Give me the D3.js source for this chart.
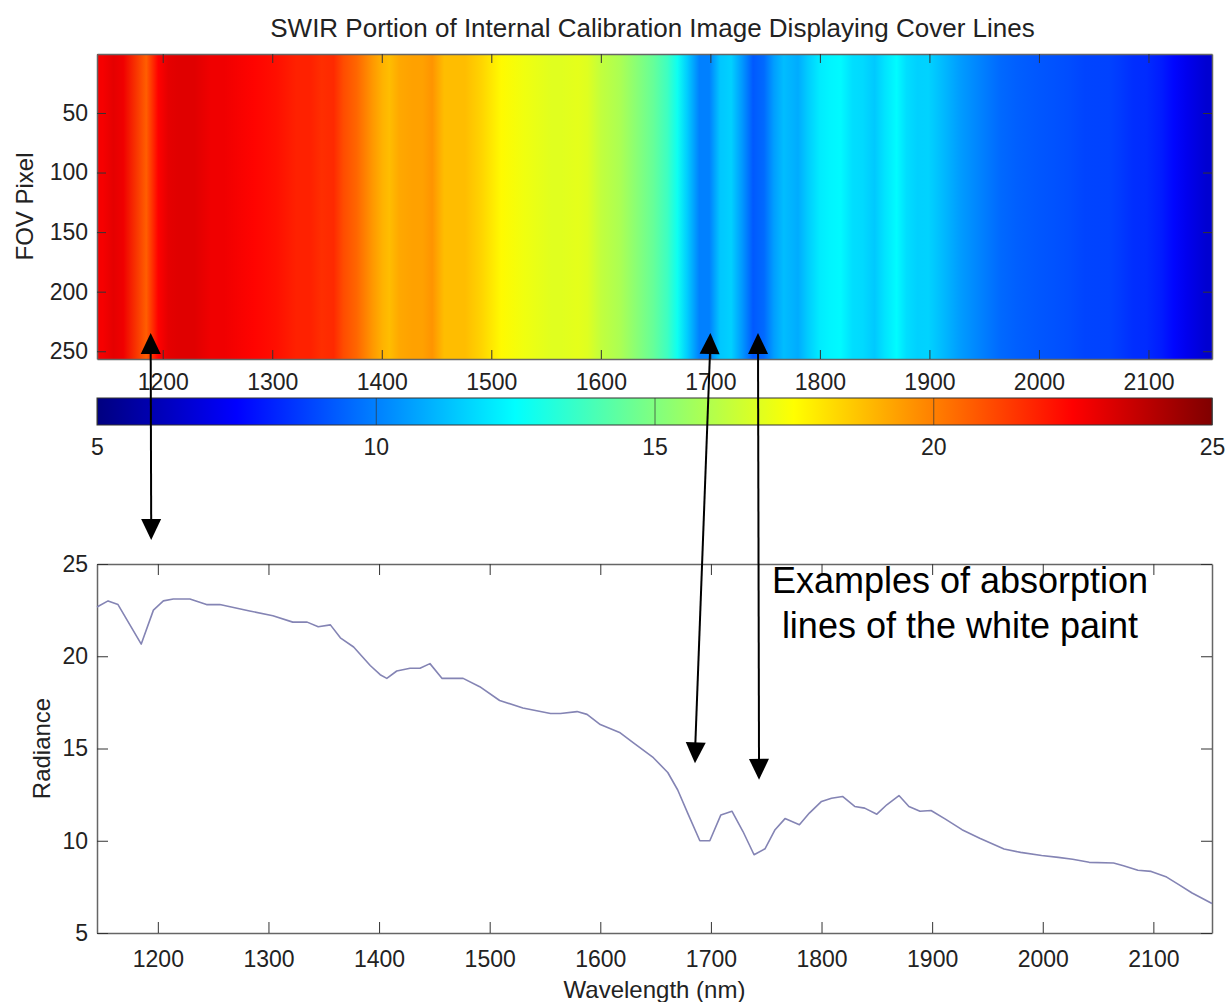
<!DOCTYPE html>
<html>
<head>
<meta charset="utf-8">
<script src="https://cdn.jsdelivr.net/npm/d3@7"></script>
<style>
  html, body { margin: 0; padding: 0; background: #fff; }
  svg { display: block; font-family: "Liberation Sans", Arial, Helvetica, sans-serif; }
</style>
</head>
<body>
<svg id="chart" width="1227" height="1002"></svg>
<script>
// Mean SWIR radiance of the internal calibration cover, per wavelength (nm)
const wavelength = [1145, 1155, 1164, 1185, 1196, 1205, 1214, 1229, 1244, 1256,
                    1283, 1304, 1322, 1335, 1345, 1356, 1365, 1377, 1392, 1401,
                    1407, 1416, 1428, 1437, 1446, 1457, 1476, 1491, 1509, 1530,
                    1555, 1564, 1579, 1588, 1600, 1618, 1630, 1648, 1661, 1670,
                    1679, 1690, 1699, 1709, 1719, 1729, 1739, 1749, 1758, 1767,
                    1780, 1789, 1800, 1809, 1819, 1830, 1839, 1850, 1859, 1870,
                    1879, 1889, 1899, 1912, 1927, 1943, 1965, 1980, 1999, 2014,
                    2027, 2042, 2064, 2073, 2086, 2098, 2112, 2123, 2135, 2153];
const radiance = [22.67, 23.0, 22.8, 20.66, 22.5, 23.0, 23.1, 23.1, 22.8, 22.8,
                  22.45, 22.2, 21.85, 21.85, 21.6, 21.7, 21.0, 20.5, 19.5, 19.0,
                  18.8, 19.2, 19.35, 19.35, 19.6, 18.8, 18.8, 18.35, 17.6, 17.2,
                  16.9, 16.9, 17.0, 16.85, 16.3, 15.85, 15.3, 14.5, 13.7, 12.75,
                  11.5, 10.0, 10.0, 11.4, 11.6, 10.5, 9.24, 9.57, 10.6, 11.2,
                  10.87, 11.5, 12.13, 12.3, 12.4, 11.86, 11.77, 11.44, 11.95, 12.45,
                  11.86, 11.6, 11.64, 11.17, 10.6, 10.14, 9.55, 9.37, 9.2, 9.1,
                  9.0, 8.83, 8.79, 8.65, 8.4, 8.34, 8.03, 7.62, 7.17, 6.6];

const wavelengthTicks = [1200, 1300, 1400, 1500, 1600, 1700, 1800, 1900, 2000, 2100];
const pixelTicks = [50, 100, 150, 200, 250];
const radianceTicks = [5, 10, 15, 20, 25];
const colorbarTicks = [5, 10, 15, 20, 25];

const titleText = "SWIR Portion of Internal Calibration Image Displaying Cover Lines";
const imageYLabel = "FOV Pixel";
const plotXLabel = "Wavelength (nm)";
const plotYLabel = "Radiance";
const noteLines = ["Examples of absorption", "lines of the white paint"];

// Arrows linking image columns (wavelength, FOV pixel) to the spectrum (wavelength, radiance)
const arrowImageWl = [1189, 1700, 1743.5];
const arrowImagePixel = [234.7, 234.7, 234.7];
const arrowPlotWl = [1194, 1685.6, 1743.5];
const arrowPlotRad = [26.3, 14.2, 13.3];

const svg = d3.select("#chart");
const left = 97, right = 1212;
const img = { top: 54, bottom: 359 };
const cbar = { top: 398, bottom: 425 };
const plot = { top: 564, bottom: 933 };
const fmt = d3.format("d");

// scales
const xImg = d3.scaleLinear().domain([1140, 2158]).range([left, right]);
const yImg = d3.scaleLinear().domain([0.5, 256.5]).range([img.top, img.bottom]);
const xPlot = d3.scaleLinear().domain([1145, 2153]).range([left, right]);
const yPlot = d3.scaleLinear().domain([5, 25]).range([plot.bottom, plot.top]);
const cScale = d3.scaleLinear().domain([5, 25]).range([left, right]);

// MATLAB-style jet colormap
function jet(t) {
  t = Math.max(0, Math.min(1, t));
  const c = v => Math.round(255 * Math.max(0, Math.min(1, v)));
  return d3.rgb(c(1.5 - Math.abs(4 * t - 3)), c(1.5 - Math.abs(4 * t - 2)), c(1.5 - Math.abs(4 * t - 1))).formatHex();
}
const colorOf = v => jet((v - 5) / 20);

const defs = svg.append("defs");

// image: each column coloured by its radiance
const imgGrad = defs.append("linearGradient").attr("id", "imgGrad")
  .attr("gradientUnits", "userSpaceOnUse")
  .attr("x1", left).attr("x2", right).attr("y1", 0).attr("y2", 0);
imgGrad.selectAll("stop").data(wavelength).join("stop")
  .attr("offset", (d) => (xImg(d) - left) / (right - left))
  .attr("stop-color", (d, i) => colorOf(radiance[i]));

svg.append("text").attr("x", (left + right) / 2 - 2).attr("y", 37)
  .attr("text-anchor", "middle").attr("font-size", 26).attr("fill", "#222")
  .text(titleText);

svg.append("rect").attr("x", left).attr("y", img.top)
  .attr("width", right - left).attr("height", img.bottom - img.top)
  .attr("fill", "url(#imgGrad)");

const tickColor = "#333";
function styleAxis(g, size) {
  g.selectAll(".domain").attr("stroke", tickColor).attr("stroke-width", 1);
  g.selectAll(".tick line").attr("stroke", tickColor).attr("stroke-width", 1);
  g.selectAll(".tick text").attr("fill", "#222").attr("font-size", size)
    .attr("font-family", "Liberation Sans, Arial, sans-serif");
}

// image axes
svg.append("g").attr("transform", `translate(0,${img.bottom})`)
  .call(d3.axisBottom(xImg).tickValues(wavelengthTicks).tickFormat(fmt).tickSize(-9).tickSizeOuter(0).tickPadding(15))
  .call(g => styleAxis(g, 23));
svg.append("g").attr("transform", `translate(0,${img.top})`)
  .call(d3.axisTop(xImg).tickValues(wavelengthTicks).tickSize(-9).tickSizeOuter(0).tickFormat(""))
  .call(g => styleAxis(g, 23));
svg.append("g").attr("transform", `translate(${left},0)`)
  .call(d3.axisLeft(yImg).tickValues(pixelTicks).tickFormat(fmt).tickSize(-9).tickSizeOuter(0).tickPadding(9))
  .call(g => styleAxis(g, 23));
svg.append("g").attr("transform", `translate(${right},0)`)
  .call(d3.axisRight(yImg).tickValues(pixelTicks).tickSize(-9).tickSizeOuter(0).tickFormat(""))
  .call(g => styleAxis(g, 23));

svg.append("text")
  .attr("transform", `translate(33,${(img.top + img.bottom) / 2}) rotate(-90)`)
  .attr("text-anchor", "middle").attr("font-size", 24).attr("fill", "#222")
  .text(imageYLabel);

// colour bar
const cbGrad = defs.append("linearGradient").attr("id", "cbGrad")
  .attr("x1", 0).attr("x2", 1).attr("y1", 0).attr("y2", 0);
cbGrad.selectAll("stop").data(d3.range(0, 1.0001, 1 / 64)).join("stop")
  .attr("offset", d => d).attr("stop-color", d => jet(d));
svg.append("rect").attr("x", left).attr("y", cbar.top)
  .attr("width", right - left).attr("height", cbar.bottom - cbar.top)
  .attr("fill", "url(#cbGrad)").attr("stroke", "#333").attr("stroke-width", 1);
svg.append("g").attr("transform", `translate(0,${cbar.bottom})`)
  .call(d3.axisBottom(cScale).tickValues(colorbarTicks).tickFormat(fmt).tickSize(-(cbar.bottom - cbar.top)).tickSizeOuter(0).tickPadding(14))
  .call(g => { styleAxis(g, 23); g.select(".domain").remove(); g.selectAll(".tick line").attr("stroke-opacity", 0.7); });

// spectrum plot
svg.append("g").attr("transform", `translate(0,${plot.bottom})`)
  .call(d3.axisBottom(xPlot).tickValues(wavelengthTicks).tickFormat(fmt).tickSize(-11).tickSizeOuter(0).tickPadding(18))
  .call(g => styleAxis(g, 23));
svg.append("g").attr("transform", `translate(0,${plot.top})`)
  .call(d3.axisTop(xPlot).tickValues(wavelengthTicks).tickSize(-11).tickSizeOuter(0).tickFormat(""))
  .call(g => styleAxis(g, 23));
svg.append("g").attr("transform", `translate(${left},0)`)
  .call(d3.axisLeft(yPlot).tickValues(radianceTicks).tickFormat(fmt).tickSize(-11).tickSizeOuter(0).tickPadding(9))
  .call(g => styleAxis(g, 23));
svg.append("g").attr("transform", `translate(${right},0)`)
  .call(d3.axisRight(yPlot).tickValues(radianceTicks).tickSize(-11).tickSizeOuter(0).tickFormat(""))
  .call(g => styleAxis(g, 23));
svg.selectAll("g .domain").attr("stroke", "#666").attr("stroke-width", 1.5);

const line = d3.line().x((d, i) => xPlot(wavelength[i])).y(d => yPlot(d));
svg.append("path").datum(radiance)
  .attr("d", line).attr("fill", "none")
  .attr("stroke", "#8484b4").attr("stroke-width", 1.6).attr("stroke-linejoin", "round");

svg.append("text").attr("x", (left + right) / 2).attr("y", 998)
  .attr("text-anchor", "middle").attr("font-size", 24).attr("fill", "#222")
  .text(plotXLabel);
svg.append("text")
  .attr("transform", `translate(50,${(plot.top + plot.bottom) / 2}) rotate(-90)`)
  .attr("text-anchor", "middle").attr("font-size", 24).attr("fill", "#222")
  .text(plotYLabel);

// annotation
svg.append("text").attr("font-size", 36).attr("fill", "#000").attr("text-anchor", "middle")
  .selectAll("tspan").data(noteLines).join("tspan")
  .attr("x", 960).attr("y", (d, i) => 593 + i * 45).text(d => d);

// double-headed arrows
function arrowHead(tip, from) {
  const dx = tip[0] - from[0], dy = tip[1] - from[1];
  const len = Math.hypot(dx, dy), ux = dx / len, uy = dy / len;
  const L = 21, W = 10;
  const bx = tip[0] - ux * L, by = tip[1] - uy * L;
  return `M${tip[0]},${tip[1]}L${bx - uy * W},${by + ux * W}L${bx + uy * W},${by - ux * W}Z`;
}
const arrows = arrowImageWl.map((w, i) => ({
  a: [xImg(w), yImg(arrowImagePixel[i])],
  b: [xPlot(arrowPlotWl[i]), yPlot(arrowPlotRad[i])]
}));
const ag = svg.append("g");
arrows.forEach(({ a, b }) => {
  ag.append("line").attr("x1", a[0]).attr("y1", a[1] + 10).attr("x2", b[0]).attr("y2", b[1] - 10)
    .attr("stroke", "#000").attr("stroke-width", 2);
  ag.append("path").attr("d", arrowHead(a, b)).attr("fill", "#000");
  ag.append("path").attr("d", arrowHead(b, a)).attr("fill", "#000");
});
</script>
</body>
</html>
